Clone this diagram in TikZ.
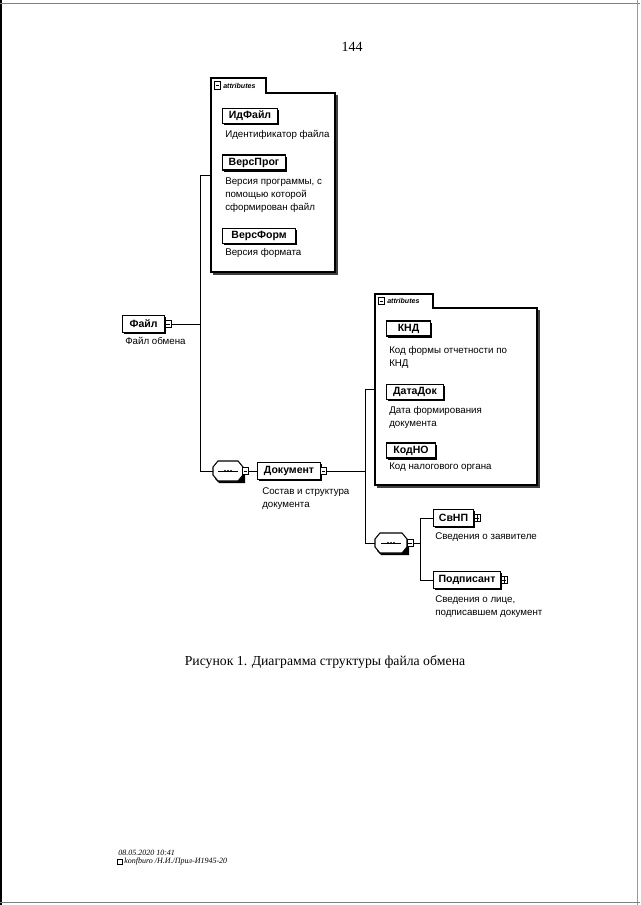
\documentclass[tikz,border=0pt]{standalone}
\usepackage{fontspec}
\setmainfont{Liberation Serif}
\setsansfont{Liberation Sans}
\usetikzlibrary{shadows}
\begin{document}
\begin{tikzpicture}[x=0.75pt,y=-0.75pt,
  every node/.style={inner sep=0pt},
  wire/.style={line width=0.7pt},
  shad/.style={drop shadow={shadow xshift=1.2pt,shadow yshift=-1.2pt,fill=black,opacity=1}},
  elem/.style={draw, fill=white, line width=0.8pt, anchor=west, shad,
    font=\sffamily\bfseries\fontsize{7.9}{9}\selectfont, minimum height=12.5pt},
  attrbox/.style={elem, minimum height=11.25pt},
  desc/.style={font=\sffamily\fontsize{7.3}{9.8}\selectfont, align=left, anchor=north west},
  expm/.style={draw, fill=white, line width=0.5pt, minimum width=4.5pt, minimum height=5.5pt,
    path picture={\draw[line width=0.5pt] ([xshift=0.8pt]path picture bounding box.west) -- ([xshift=-0.8pt]path picture bounding box.east);}},
  expp/.style={draw, fill=white, line width=0.5pt, minimum width=4.5pt, minimum height=5.5pt,
    path picture={\draw[line width=0.5pt] ([xshift=0.8pt]path picture bounding box.west) -- ([xshift=-0.8pt]path picture bounding box.east);
      \draw[line width=0.5pt] ([yshift=-0.8pt]path picture bounding box.north) -- ([yshift=0.8pt]path picture bounding box.south);}},
  seqanchor/.style={draw=none, minimum height=15pt},
  seqline/.style={line width=0.8pt, fill=white},
  container/.style={draw=none, anchor=north west},
  frame/.style={line width=0.8pt},
  cshadow/.style={line width=1pt, black!75},
  tabtext/.style={font=\sffamily\bfseries\itshape\fontsize{5.3}{6}\selectfont, anchor=west},
]
\useasboundingbox (0,0) rectangle (640,905);
\fill[white] (0,0) rectangle (640,905);
% scan edges
\draw[line width=1.5pt] (1,0) -- (1,905);
\draw[gray,line width=0.7pt] (0,3) -- (640,3);
\draw[gray!80,line width=0.6pt] (637,0) -- (637,905);
\draw[gray,line width=0.7pt] (0,902) -- (640,902);

% page number, caption, footer
\node[font=\fontsize{10.5}{12}\selectfont] (pgnum) at (352,47) {144};
\node[font=\fontsize{10.3}{12}\selectfont] (caption) at (325,662) {Рисунок 1. Диаграмма структуры файла обмена};
\node[font=\itshape\fontsize{6}{7}\selectfont, anchor=west] (foot1) at (118,853) {08.05.2020 10:41};
\node[draw, line width=0.3pt, minimum width=3.5pt, minimum height=3.5pt] (footicon) at (120,862) {};
\node[font=\itshape\fontsize{6}{7}\selectfont, anchor=west] (foot2) at (124,862) {konfburo /Н.И./Прил-И1945-20};

% ---------- attributes container A ----------
\node[container, minimum width=93pt, minimum height=145.5pt] (attrA) at (211,78) {};
\draw[cshadow] (337,95) -- (337,274) -- (213,274);
\draw[frame, fill=white] (211,272) -- (211,78) -- (266,78) -- (266,93) -- (335,93) -- (335,272) -- cycle;
\node[expm] (tabAx) at (217.5,85.5) {};
\node[tabtext] (tabA) at (223,85.5) {attributes};

\node[attrbox, minimum width=41.25pt] (idf) at (222,116) {ИдФайл};
\node[desc] (didf) at (225,130.5) {Идентификатор файла};
\node[attrbox, minimum width=47.25pt] (vprog) at (222,162.5) {ВерсПрог};
\node[desc] (dvprog) at (225,177.5) {Версия программы, с\\помощью которой\\сформирован файл};
\node[attrbox, minimum width=54.75pt] (vform) at (222,236) {ВерсФорм};
\node[desc] (dvform) at (225,248.5) {Версия формата};

% ---------- root element ----------
\node[elem, minimum width=31.5pt] (file) at (122,324) {Файл};
\node[expm] (fileX) at ([xshift=2.2pt]file.east) {};
\node[desc] (dfile) at (125,337.5) {Файл обмена};

% ---------- sequence A and Документ ----------
\node[seqanchor, minimum width=22.5pt] (seqA) at (228,471) {};
\begin{scope}[shift={(seqA.center)}]
  \fill[black] (-9,-8) -- (9,-8) -- (17,-2) -- (17,12) -- (9,12) -- (-9,12) -- (-13,8) -- cycle;
  \draw[seqline] (-10,-10) -- (10,-10) -- (15,-4) -- (15,4) -- (10,10) -- (-10,10) -- (-15,4) -- (-15,-4) -- cycle;
  \draw[line width=0.6pt] (-10,0) -- (10,0);
  \foreach \d in {-3,0,3} \fill (\d,0) circle (1.1);
\end{scope}
\node[expm] (seqAx) at (245.5,471) {};
\node[elem, minimum width=47.25pt] (doc) at (257,471) {Документ};
\node[expm] (docX) at ([xshift=1.8pt]doc.east) {};
\node[desc] (ddoc) at (262,487.5) {Состав и структура\\документа};

% ---------- attributes container B ----------
\node[container, minimum width=121.5pt, minimum height=143.25pt] (attrB) at (375,294) {};
\draw[cshadow] (539,310) -- (539,487) -- (377,487);
\draw[frame, fill=white] (375,485) -- (375,294) -- (433,294) -- (433,308) -- (537,308) -- (537,485) -- cycle;
\node[expm] (tabBx) at (381.5,301) {};
\node[tabtext] (tabB) at (387,301) {attributes};

\node[attrbox, minimum width=33pt] (knd) at (386,328.5) {КНД};
\node[desc] (dknd) at (389,346.5) {Код формы отчетности по\\КНД};
\node[attrbox, minimum width=42.75pt] (datadok) at (386,392) {ДатаДок};
\node[desc] (ddatadok) at (389,406.5) {Дата формирования\\документа};
\node[attrbox, minimum width=36.75pt] (kodno) at (386,450.5) {КодНО};
\node[desc] (dkodno) at (389,462.5) {Код налогового органа};

% ---------- sequence B and children ----------
\node[seqanchor, minimum width=24pt] (seqB) at (391,543) {};
\begin{scope}[shift={(seqB.center)}]
  \fill[black] (-10,-8) -- (10,-8) -- (18,-2) -- (18,12) -- (10,12) -- (-10,12) -- (-14,8) -- cycle;
  \draw[seqline] (-11,-10) -- (11,-10) -- (16,-4) -- (16,4) -- (11,10) -- (-11,10) -- (-16,4) -- (-16,-4) -- cycle;
  \draw[line width=0.6pt] (-10,0) -- (10,0);
  \foreach \d in {-3,0,3} \fill (\d,0) circle (1.1);
\end{scope}
\node[expm] (seqBx) at (410,543) {};
\node[elem, minimum width=30pt] (svnp) at (433,518) {СвНП};
\node[expp] (svnpX) at ([xshift=2.2pt]svnp.east) {};
\node[desc] (dsvnp) at (435,532.5) {Сведения о заявителе};
\node[elem, minimum width=50.25pt] (podp) at (433,580) {Подписант};
\node[expp] (podpX) at ([xshift=2.2pt]podp.east) {};
\node[desc] (dpodp) at (435,595.5) {Сведения о лице,\\подписавшем документ};

% ---------- buses ----------
\coordinate (busA) at (200,0);
\coordinate (busB) at (365,0);
\coordinate (busC) at (420,0);

% ---------- connectors ----------
\draw[wire] (fileX.east) -- (fileX.east -| busA);
\draw[wire] (attrA.west) -- (attrA.west -| busA) -- (seqA.west -| busA) -- (seqA.west);
\draw[wire] (seqAx.east) -- (doc.west);
\draw[wire] (docX.east) -- (docX.east -| busB);
\draw[wire] (attrB.west) -- (attrB.west -| busB) -- (seqB.west -| busB) -- (seqB.west);
\draw[wire] (seqBx.east) -- (seqBx.east -| busC);
\draw[wire] (svnp.west) -- (svnp.west -| busC) -- (podp.west -| busC) -- (podp.west);
\end{tikzpicture}
\end{document}
